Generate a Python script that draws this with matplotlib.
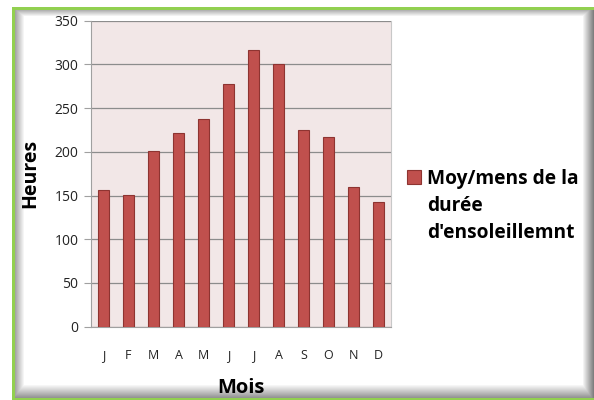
import matplotlib
matplotlib.use("Agg")
import matplotlib.pyplot as plt
import numpy as np

months = ["J", "F", "M", "A", "M", "J", "J", "A", "S", "O", "N", "D"]
hours = [156, 151, 201, 221, 237, 278, 317, 300, 225, 217, 160, 143]
yticks = [0, 50, 100, 150, 200, 250, 300, 350]
legend_lines = ["Moy/mens de la", "durée", "d'ensoleillemnt"]

W, H = 594, 400
fig = plt.figure(figsize=(W / 100, H / 100), dpi=100)
fig.patch.set_facecolor("white")

# ---- background frame: green border with soft shadows (pure styling) ----
img = np.ones((H, W, 3))
yy, xx = np.mgrid[0:H, 0:W]
shade = np.zeros((H, W))
# inner shadow left / top
shade = np.maximum(shade, np.clip(1 - (xx - 15) / 9.0, 0, 1) * 0.35 * (xx >= 15))
shade = np.maximum(shade, np.clip(1 - (yy - 9) / 7.0, 0, 1) * 0.35 * (yy >= 9))
# outer shadow right / bottom
shade = np.maximum(shade, np.clip((xx - 582) / 11.0, 0, 1) * 0.5)
shade = np.maximum(shade, np.clip((yy - 384) / 14.0, 0, 1) * 0.45)
img = img * (1 - shade[..., None])
green = np.array([0x92, 0xD0, 0x50]) / 255.0
img[:7, :] = 1.0
img[:, :12] = 1.0
img[7:10, 12:] = green
img[7:, 12:15] = green
img[398:, 12:] = green
bg = fig.add_axes([0, 0, 1, 1])
bg.set_zorder(-1)
bg.imshow(img, aspect="auto", interpolation="nearest")
bg.axis("off")

# ---- main chart ----
left, right, top, bottom = 91, 391, 20.7, 326.6
ax = fig.add_axes([left / W, 1 - bottom / H, (right - left) / W, (bottom - top) / H])
ax.set_facecolor("#F2E7E7")
x = range(len(months))
ax.bar(x, hours, width=0.42, color="#C0504D", edgecolor="#8E3431", linewidth=0.8,
       zorder=3, label=legend_lines[0])
ax.set_xlim(-0.5, len(months) - 0.5)
ax.set_ylim(0, 350)
ax.set_yticks(yticks)
ax.set_xticks(list(x))
ax.set_xticklabels(months)
ax.yaxis.grid(True, color="#8C8C8C", linewidth=0.9, zorder=1)
ax.set_axisbelow(True)
ax.spines["top"].set_visible(False)
ax.spines["right"].set_color("#C8C8C8")
ax.spines["left"].set_color("#A0A0A0")
ax.spines["bottom"].set_color("#A0A0A0")
ax.tick_params(axis="y", length=5, color="#A0A0A0", labelsize=10, labelcolor="#222222", pad=4)
ax.tick_params(axis="x", length=0, labelsize=9, labelcolor="#222222", pad=16)
for lab in ax.get_xticklabels() + ax.get_yticklabels():
    lab.set_family("Open Sans")

ax.set_ylabel("Heures", fontsize=14, fontweight="bold", family="Open Sans", labelpad=10)
ax.set_xlabel("Mois", fontsize=14.5, fontweight="bold", family="Open Sans", labelpad=12)

fs = 13.8
leg = fig.legend(loc="upper left", bbox_to_anchor=(407 / W, 1 - 169 / H), frameon=False,
                 prop={"family": "Open Sans", "weight": "bold", "size": fs},
                 handlelength=0.75, handleheight=0.75, handletextpad=0.3, borderaxespad=0,
                 borderpad=0)
fig.canvas.draw()
t0 = leg.get_texts()[0]
bb = t0.get_window_extent()
x0 = bb.x0 / W
for i, line in enumerate(legend_lines[1:], start=1):
    fig.text(x0, (bb.y0 - i * 27) / H, line, fontsize=fs, fontweight="bold",
             family="Open Sans", ha="left", va="bottom")

fig.savefig("out.png", dpi=100)
